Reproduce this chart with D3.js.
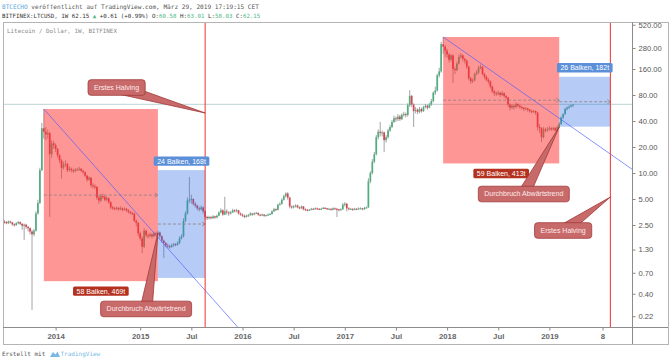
<!DOCTYPE html>
<html><head><meta charset="utf-8">
<script src="https://cdn.jsdelivr.net/npm/d3@7"></script>
<style>body{margin:0;background:#fff}svg{display:block}text{white-space:pre}</style>
</head><body><svg id="c" width="671" height="363"></svg>
<script>
// ---------- DATA ----------
const firstWeek = "2013-07-08";
const missingWeeks = ["2014-02-03","2014-02-10","2014-02-17","2014-02-24","2014-03-03","2014-03-10","2014-03-17","2014-03-24","2014-03-31"];
const firstOpen = 2.72;
const closes = [
2.70,2.62,2.75,2.68,2.55,2.50,2.62,2.70,2.58,2.45,
2.52,2.38,2.30,2.10,1.95,2.15,3.40,4.50,10.8,33,
30,28,29,16.5,22,21,19,16,14,11.5,
12.5,12.8,10.8,11.2,10.8,10.5,10.9,11.0,11.2,10.6,
10.2,9.3,8.4,8.8,7.2,7.0,6.9,5.2,4.8,5.4,
5.3,4.9,5.1,4.6,4.0,3.9,3.85,3.95,3.8,3.9,
3.75,3.85,3.7,3.55,3.45,3.4,2.8,2.65,2.0,
1.75,1.40,2.15,1.90,1.85,1.95,1.85,2.00,1.95,2.05,
1.85,1.65,1.55,1.45,1.42,1.40,1.45,1.50,1.48,1.55,
1.75,1.85,2.80,3.40,4.80,4.90,5.00,4.40,4.20,3.90,
3.80,4.00,3.60,3.10,3.00,3.10,3.00,3.15,3.05,3.20,
3.50,3.70,3.30,3.60,3.50,3.40,3.50,3.70,3.60,3.70,
3.40,3.30,3.20,3.10,3.20,3.25,3.40,3.30,3.40,3.45,
3.30,3.25,3.30,3.20,3.25,3.30,3.35,3.60,3.80,3.75,
4.30,4.40,4.90,5.40,5.80,5.20,4.10,4.00,4.10,4.20,
4.00,3.90,4.10,3.80,3.75,3.70,3.75,3.85,3.80,3.90,
3.85,3.80,3.85,3.95,3.90,3.80,3.85,3.75,3.90,3.85,
3.80,3.70,3.80,4.30,4.40,3.90,3.80,3.85,3.75,3.85,
3.80,3.90,3.90,3.80,3.95,4.00,8.00,10.0,13.5,16.5,
26,30,29,29.5,24,26,31,34,39,43,
42,45,42,47,48,47,61,78,62,52,
54,51,55,52,58,60,57,62,68,85,
90,135,150,310,290,260,235,205,230,160,
155,185,220,230,210,200,170,125,115,118,
140,145,165,170,140,130,120,115,100,88,
84,82,85,80,84,78,75,62,57,60,
58,63,60,58,57,55,56,54,52,51,
52,50,34,33,26,32,31,32,33,32,
33,31,34,37,44,48,55,57,58.5,60.58,
62.15];
const highs = [
2.85,2.78,2.82,2.80,2.72,2.62,2.70,2.78,2.75,2.62,
2.60,2.58,2.45,2.35,2.20,2.25,3.60,4.90,11.5,38,
55,34,32,30,24,23.5,22,19.5,16.5,14.5,
13.5,14,13,12,11.6,11.2,11.4,11.5,11.8,11.4,
10.9,10.4,9.5,9.2,9.0,7.6,7.4,7.1,5.5,5.7,
5.8,5.5,5.4,5.2,4.7,4.15,4.05,4.1,4.05,4.1,
4.0,4.0,3.95,3.8,3.65,3.55,3.45,2.9,2.7,
2.1,1.85,2.3,2.2,2.0,2.05,2.0,2.1,2.08,2.15,
2.1,1.9,1.7,1.6,1.52,1.48,1.52,1.56,1.55,1.62,
1.85,1.95,3.0,3.6,5.2,9.0,5.6,5.1,4.6,4.3,
4.1,4.2,4.1,3.7,3.2,3.2,3.15,3.25,3.2,3.3,
3.6,3.9,3.8,5.3,3.8,3.6,3.65,3.85,3.8,3.85,
3.75,3.5,3.4,3.3,3.3,3.35,3.5,3.45,3.5,3.55,
3.5,3.35,3.4,3.35,3.3,3.4,3.45,3.7,3.95,3.9,
4.4,4.6,5.1,5.6,5.95,6.0,5.3,4.2,4.25,4.35,
4.3,4.1,4.2,4.15,3.9,3.85,3.85,3.95,3.92,4.0,
3.98,3.92,3.95,4.05,4.02,3.95,3.95,3.9,4.0,3.98,
3.95,3.85,3.9,4.5,4.6,4.5,4.0,3.95,3.9,3.95,
3.92,4.0,4.0,3.95,4.05,4.1,8.7,10.5,14.5,17.5,
27.5,32,39,31,30,27.5,32.5,36,41,46,
45,48,47,49,51,50,64,91,80,64,
58,56,58,57,60,63,62,65,72,88,
100,140,165,330,375,305,275,245,240,235,
170,195,235,245,235,215,205,175,130,125,
145,155,175,180,172,145,135,125,118,103,
92,88,90,87,89,86,80,76,64,63,
62,66,64,62,60,58,58,57,55,54,
54,53,51,37,34,34,33.5,34,35,34,
34.5,34,35.5,39,45,49,57,59,61,62,
63.01];
const lows = [
2.60,2.55,2.58,2.60,2.45,2.40,2.45,2.55,2.50,2.20,
1.68,2.25,2.10,1.95,0.26,1.85,2.10,3.30,4.40,10.5,
25,24,25,3.1,15,19,17.5,15,13,8.6,
11,11.8,10.2,10.4,10.2,10.0,10.2,10.5,10.6,10.2,
9.8,8.9,7.9,8.1,6.8,6.6,6.5,4.9,4.4,4.6,
5.0,4.7,4.7,4.4,3.8,3.75,3.7,3.75,3.65,3.7,
3.6,3.65,3.55,3.4,3.3,3.25,2.7,2.4,1.85,
1.65,1.18,1.35,1.8,1.75,1.8,1.75,1.8,1.85,1.9,
1.75,1.55,1.04,1.38,1.35,1.33,1.36,1.4,1.42,1.44,
1.5,1.7,1.8,2.7,3.3,4.5,4.4,4.2,4.0,3.7,
3.6,3.7,3.4,2.9,2.85,2.9,2.9,2.95,2.95,3.0,
3.15,3.4,3.2,3.25,3.3,3.2,3.3,3.45,3.5,3.5,
3.3,3.2,3.1,3.0,3.05,3.1,3.2,3.2,3.25,3.35,
3.2,3.15,3.2,3.1,3.15,3.2,3.25,3.3,3.55,3.65,
3.7,4.2,4.3,4.8,5.2,4.9,3.9,3.85,3.9,4.0,
3.9,3.8,3.85,3.7,3.65,3.6,3.65,3.7,3.72,3.75,
3.78,3.72,3.75,3.8,3.82,3.72,3.75,3.65,3.7,3.78,
3.1,3.6,3.65,3.75,4.1,3.6,3.7,3.75,3.65,3.7,
3.72,3.75,3.8,3.7,3.75,3.85,3.95,7.6,9.6,13,
16,24.5,26.5,26.5,17.5,22.5,25,30,33,38,
39,40,40,41,45,44,45,58,58,34,
49,48,49,50,51,56,54,56,60,66,
80,88,128,145,240,220,215,190,195,110,
140,150,180,210,195,185,160,118,108,110,
115,135,140,158,135,122,115,108,95,84,
78,78,79,76,78,74,71,58,53,55,
54,56,57,55,54,52,53,51,50,49,
49.5,47,31,29,22.8,25,29.5,30,31,30.5,
31,30,30.5,33,36,42,47,53,55,57.5,
58.03];

const yTickValues = [520,280,160,80,40,20,10,5,2.5,1.3,0.7,0.4,0.22];
const xTickLabels = ["2014","2015","Jul","2016","Jul","2017","Jul","2018","Jul","2019","8"];
const xTickDates = ["2014-01-06","2015-01-05","2015-07-06","2016-01-04","2016-07-04","2017-01-02","2017-07-03","2018-01-01","2018-07-02","2018-12-31","2019-07-08"];

const rangeStart = ["2013-11-25","2015-03-09","2017-12-18","2019-02-04"];
const rangeEnd   = ["2015-03-09","2015-08-24","2019-02-04","2019-08-05"];
const rangeTop    = [55, 10.8, 375, 130];
const rangeBottom = [0.56, 0.61, 12.9, 34.4];
const rangeText = ["58 Balken, 469t","24 Balken, 168t","59 Balken, 413t","26 Balken, 182t"];
const rangeKind = ["down","up","down","up"];

const halvingDates = ["2015-08-24","2019-08-05"];
const trendFromDate = ["2013-11-25","2017-12-18"], trendFromPrice = [55, 375];
const trendToDate   = ["2015-03-09","2019-02-04"], trendToPrice   = [1.8, 43];

const calloutText = ["Erstes Halving","Durchbruch Abwärtstrend","Durchbruch Abwärtstrend","Erstes Halving"];
const calloutTipDate = ["2015-08-24","2015-03-09","2019-02-04","2019-08-05"];
const calloutTipPrice = [49.5, 2.02, 34.1, 5.27];
const calloutLabelDate = ["2014-10-13","2015-01-26","2018-10-01","2019-02-18"];
const calloutLabelPrice = [97.6, 0.267, 5.71, 2.16];

const lastPrice = 62.15;

// ---------- SETUP ----------
const svg = d3.select("#c");
const W = 671, H = 363;
const P = {l:3, r:632, t:22, b:327, outerR:668, outerB:344};
const parse = d3.utcParse("%Y-%m-%d"), fmt = d3.utcFormat("%Y-%m-%d");
const miss = new Set(missingWeeks);
const bars = [];
for (let d = parse(firstWeek); bars.length < 360; d = d3.utcDay.offset(d, 7)) {
  if (!miss.has(fmt(d))) bars.push(d.getTime());
}
function idx(s) {
  const t = parse(s).getTime();
  const i = d3.bisectLeft(bars, t);
  if (bars[i] === t) return i;
  if (i === 0) return 0;
  return i - 1 + (t - bars[i-1]) / (bars[i] - bars[i-1]);
}
const x = d3.scaleLinear().domain([-0.75, 319]).range([P.l, P.r]);
const y = d3.scaleLog().domain([0.165, 559.5]).range([P.b, P.t]);

const candles = closes.map((c, i) => ({i, o: i === 0 ? firstOpen : closes[i-1], c, h: highs[i], l: lows[i]}));

svg.append("rect").attr("width", W).attr("height", H).attr("fill", "#fff");
svg.append("defs").append("clipPath").attr("id", "clip").append("rect")
  .attr("x", P.l).attr("y", P.t).attr("width", P.r - P.l).attr("height", P.b - P.t);
const plot = svg.append("g").attr("clip-path", "url(#clip)");

// last price line
plot.append("line").attr("x1", P.l).attr("x2", P.r).attr("y1", y(lastPrice)).attr("y2", y(lastPrice))
  .attr("stroke", "#c9dcdc").attr("stroke-width", 1.2);

// candles
const cg = plot.append("g");
cg.selectAll("line.w").data(candles).join("line").attr("class", "w")
  .attr("x1", d => x(d.i)).attr("x2", d => x(d.i)).attr("y1", d => y(d.h)).attr("y2", d => y(d.l))
  .attr("stroke", "#999").attr("stroke-width", 0.9);
cg.selectAll("rect").data(candles).join("rect")
  .attr("x", d => x(d.i) - 0.85).attr("width", 1.7)
  .attr("y", d => y(Math.max(d.o, d.c)))
  .attr("height", d => Math.max(1, Math.abs(y(d.o) - y(d.c))))
  .attr("fill", d => d.c >= d.o ? "#4fae80" : "#e0404f");

// range boxes
const rg = plot.append("g");
rangeStart.forEach((s, k) => {
  const x0 = x(idx(s)), x1 = x(idx(rangeEnd[k]));
  const y0 = y(rangeTop[k]), y1 = y(rangeBottom[k]);
  const down = rangeKind[k] === "down";
  rg.append("rect").attr("x", x0).attr("y", y0).attr("width", x1 - x0).attr("height", y1 - y0)
    .attr("fill", down ? "rgba(255,45,45,0.5)" : "rgba(40,105,230,0.34)");
  const ym = (y0 + y1) / 2;
  rg.append("line").attr("x1", x0).attr("x2", x1).attr("y1", ym).attr("y2", ym)
    .attr("stroke", "#8a7f80").attr("stroke-width", 0.8).attr("stroke-dasharray", "3,2");
  rg.append("path").attr("d", `M${x1-3},${ym-2}L${x1},${ym}L${x1-3},${ym+2}`)
    .attr("fill", "none").attr("stroke", "#8a7f80").attr("stroke-width", 0.8);
});

// trend lines (extended)
trendFromDate.forEach((s, k) => {
  const ax = x(idx(s)), ay = y(trendFromPrice[k]);
  const bx = x(idx(trendToDate[k])), by = y(trendToPrice[k]);
  const m = (by - ay) / (bx - ax);
  const ex = P.r + 20;
  plot.append("line").attr("x1", ax).attr("y1", ay).attr("x2", ex).attr("y2", ay + m * (ex - ax))
    .attr("stroke", "rgba(70,90,255,0.65)").attr("stroke-width", 1);
});

// halving lines
halvingDates.forEach(s => {
  plot.append("line").attr("x1", x(idx(s))).attr("x2", x(idx(s))).attr("y1", P.t).attr("y2", P.b)
    .attr("stroke", "#f23030").attr("stroke-width", 1);
});

// range labels
const lg = svg.append("g").attr("font-family", "'Liberation Sans', Arial, sans-serif").attr("font-size", 7);
rangeStart.forEach((s, k) => {
  const x0 = x(idx(s)), x1 = x(idx(rangeEnd[k]));
  const down = rangeKind[k] === "down";
  const cx = (x0 + x1) / 2;
  const cy = down ? y(rangeBottom[k]) + 10 : y(rangeTop[k]) - 9;
  const g = lg.append("g");
  const t = g.append("text").attr("x", cx).attr("y", cy).attr("dy", "0.35em").attr("text-anchor", "middle")
    .attr("fill", "#fff").text(rangeText[k]);
  const w = t.node().getComputedTextLength() + 7;
  g.insert("rect", "text").attr("x", cx - w / 2).attr("y", cy - 4.7).attr("width", w).attr("height", 9.4).attr("rx", 1.5)
    .attr("fill", down ? "#b4311f" : "#5b8fd8");
});

// callouts
const co = svg.append("g").attr("font-family", "'Liberation Sans', Arial, sans-serif").attr("font-size", 7);
calloutText.forEach((txt, k) => {
  const tx = x(idx(calloutTipDate[k])), ty = y(calloutTipPrice[k]);
  const cx = x(idx(calloutLabelDate[k])), cy = y(calloutLabelPrice[k]);
  const dx = tx - cx, dy = ty - cy, L = Math.hypot(dx, dy), hw = 6;
  const px = -dy / L * hw, py = dx / L * hw;
  const g = co.append("g");
  g.append("path").attr("d", `M${cx+px},${cy+py}L${tx},${ty}L${cx-px},${cy-py}Z`)
    .attr("fill", "#c96a6a").attr("stroke", "#a13838").attr("stroke-width", 0.8);
  const r = g.append("rect");
  const t = g.append("text").attr("x", cx).attr("y", cy).attr("dy", "0.35em").attr("text-anchor", "middle")
    .attr("fill", "#fbeaea").text(txt);
  const w = t.node().getComputedTextLength() + 12;
  r.attr("x", cx - w / 2).attr("y", cy - 7.8).attr("width", w).attr("height", 15.6).attr("rx", 3)
    .attr("fill", "#c96a6a").attr("stroke", "#a13838").attr("stroke-width", 0.8);
});

// frame
const fr = svg.append("g").attr("fill", "none").attr("shape-rendering", "crispEdges");
fr.append("rect").attr("x", P.l + 0.5).attr("y", P.t + 0.5).attr("width", P.outerR - P.l).attr("height", P.outerB - P.t).attr("stroke", "#b4b4b4");
fr.append("line").attr("x1", P.r + 0.5).attr("x2", P.r + 0.5).attr("y1", P.t).attr("y2", P.outerB).attr("stroke", "#8c8c8c");
fr.append("line").attr("x1", P.l).attr("x2", P.outerR).attr("y1", P.b + 0.5).attr("y2", P.b + 0.5).attr("stroke", "#8c8c8c");

// axes
const yAxis = svg.append("g").attr("transform", `translate(${P.r + 0.5},0)`)
  .call(d3.axisRight(y).tickValues(yTickValues).tickFormat(d3.format(".2f")).tickSize(3).tickPadding(3));
yAxis.select(".domain").remove();
yAxis.selectAll("line").attr("stroke", "#888");
yAxis.selectAll("text").attr("font-family", "'Liberation Sans', Arial, sans-serif").attr("font-size", 7.6).attr("fill", "#555");

const xAxis = svg.append("g").attr("transform", `translate(0,${P.b + 0.5})`)
  .call(d3.axisBottom(x).tickValues(xTickDates.map(idx)).tickFormat((d, i) => xTickLabels[i]).tickSize(3).tickPadding(3));
xAxis.select(".domain").remove();
xAxis.selectAll("line").attr("stroke", "#888");
xAxis.selectAll("text").attr("font-family", "'Liberation Sans', Arial, sans-serif").attr("font-size", 7.8)
  .attr("font-weight", "bold").attr("fill", "#666");

// header texts
const mono = "'DejaVu Sans Mono', 'Liberation Mono', monospace";
const h1 = svg.append("text").attr("x", 2).attr("y", 9).attr("font-family", mono).attr("font-size", 6.1);
h1.append("tspan").attr("fill", "#5ea9dd").text("BTCECHO");
h1.append("tspan").attr("fill", "#555").text(" veröffentlicht auf TradingView.com, März 29, 2019 17:19:15 CET");
const h2 = svg.append("text").attr("x", 2).attr("y", 18).attr("font-family", mono).attr("font-size", 5.8);
[["BITFINEX:LTCUSD, 1W 62.15 ", "#333"], ["▲", "#53b987"], [" +0.61 (+0.99%) O:", "#333"], ["60.58", "#53b987"],
 [" H:", "#333"], ["63.01", "#53b987"], [" L:", "#333"], ["58.03", "#53b987"], [" C:", "#333"], ["62.15", "#53b987"]]
  .forEach(([s, c]) => h2.append("tspan").attr("fill", c).text(s));
svg.append("text").attr("x", 7).attr("y", 33).attr("font-family", mono).attr("font-size", 5.9).attr("fill", "#8a8a8a")
  .text("Litecoin / Dollar, 1W, BITFINEX");

// footer
svg.append("text").attr("x", 2).attr("y", 356).attr("font-family", mono).attr("font-size", 6).attr("fill", "#555").text("Erstellt mit");
svg.append("path").attr("d", "M50,357 L53,352 L55.5,354.5 L57.5,351.5 L60,357 Z").attr("fill", "#7ab8e6");
svg.append("text").attr("x", 60.5).attr("y", 356).attr("font-family", mono).attr("font-size", 6).attr("fill", "#7ab8e6").text("TradingView");
</script></body></html>
